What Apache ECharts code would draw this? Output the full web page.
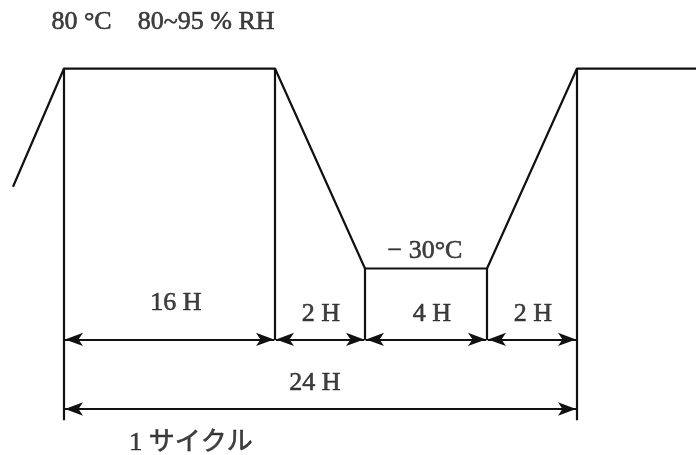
<!DOCTYPE html>
<html>
<head>
<meta charset="utf-8">
<script src="https://cdn.jsdelivr.net/npm/echarts@6/dist/echarts.min.js"></script>
<style>
  html, body { margin: 0; padding: 0; background: #fff; }
</style>
</head>
<body>
<div id="chart" style="width:696px;height:455px"></div>
<script>
// temperature profile (x = position along the schematic time line, y = °C)
var profileX = [13, 64, 275, 365, 487, 577, 696];
var profileT = [15, 80, 80, -30, -30, 80, 80];

// phase boundaries and dimension arrows
var boundX = [64, 275, 365, 487, 577];
var boundTop = [80, 80, -30, -30, 80];
var boundBottom = [-113.5, -69.5, -69.5, -69.5, -113.5];
var spanLabels = ['16 H', '2 H', '4 H', '2 H'];
var arrowRowT = -69;
var totalRowT = -107.3;
var totalLabel = '24 H';

// text labels
var labelX = [163, 425, 176, 321, 432, 533, 315, 191];
var labelT = [105.4, -20.4, -49.3, -55, -55, -55, -93.3, -126.3];
var labelText = ['80 °C    80~95 % RH', '− 30°C', '16 H', '2 H', '4 H', '2 H', '24 H', '1 サイクル'];

var ink = '#111';
var font = "'Liberation Serif', 'Noto Sans CJK JP', serif";

var myChart = echarts.init(document.getElementById('chart'));

var profileData = profileX.map(function (x, i) { return [x, profileT[i]]; });

var verticals = boundX.map(function (x, i) {
  return [{ coord: [x, boundTop[i]] }, { coord: [x, boundBottom[i]] }];
});

var arrows = [];
for (var i = 0; i < spanLabels.length; i++) {
  arrows.push([{ coord: [boundX[i] + 1, arrowRowT] }, { coord: [boundX[i + 1] - 1, arrowRowT] }]);
}
arrows.push([{ coord: [boundX[0] + 1, totalRowT] }, { coord: [boundX[4] - 1, totalRowT] }]);

var labelData = labelX.map(function (x, i) { return { value: [x, labelT[i]], name: labelText[i] }; });

var option = {
  animation: false,
  grid: { left: 0, right: 0, top: 0, bottom: 0 },
  xAxis: { type: 'value', min: 0, max: 696, show: false },
  yAxis: { type: 'value', min: -132.6, max: 117.7, show: false },
  series: [
    {
      type: 'line',
      data: profileData,
      symbol: 'none',
      silent: true,
      lineStyle: { color: ink, width: 2.2 },
      markLine: {
        silent: true,
        symbol: ['none', 'none'],
        label: { show: false },
        lineStyle: { color: ink, width: 2.2, type: 'solid' },
        data: verticals
      }
    },
    {
      type: 'line',
      data: [],
      silent: true,
      markLine: {
        silent: true,
        symbol: ['arrow', 'arrow'],
        symbolSize: [10, 18],
        label: { show: false },
        lineStyle: { color: ink, width: 2.2, type: 'solid' },
        itemStyle: { color: ink },
        data: arrows
      }
    },
    {
      type: 'scatter',
      data: labelData,
      symbolSize: 0,
      silent: true,
      label: {
        show: true,
        position: 'inside',
        formatter: '{b}',
        color: ink,
        fontFamily: font,
        fontSize: 26,
        textBorderColor: ink,
        textBorderWidth: 0.6
      }
    }
  ]
};

myChart.setOption(option);
</script>
</body>
</html>
